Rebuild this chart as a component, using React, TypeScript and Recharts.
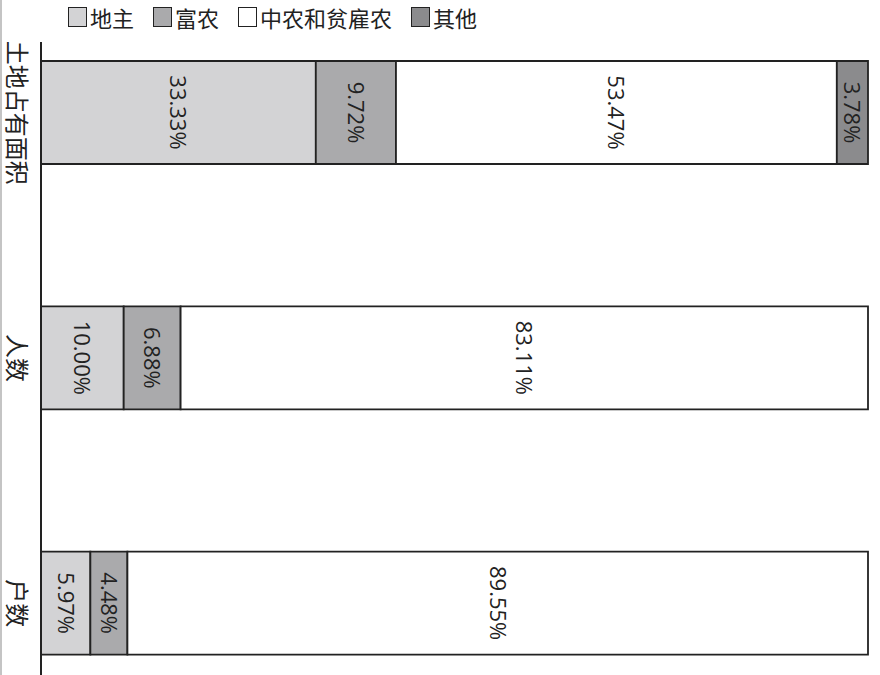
import React from 'react';
import { BarChart, Bar, XAxis, YAxis, LabelList } from 'recharts';

const categories = ['土地占有面积', '人数', '户数'];
const landlord = [33.33, 10.0, 5.97];
const richPeasant = [9.72, 6.88, 4.48];
const middlePoor = [53.47, 83.11, 89.55];
const others = [3.78, 0, 0];

const seriesKeys = ['landlord', 'rich', 'middle', 'other'];
const seriesNames = ['地主', '富农', '中农和贫雇农', '其他'];
const seriesColors = ['#d3d3d5', '#aaaaac', '#ffffff', '#8b8b8d'];

const data = categories.map((c, i) => ({
  name: c,
  landlord: landlord[i],
  rich: richPeasant[i],
  middle: middlePoor[i],
  other: others[i],
}));

const CJK = "'Noto Sans CJK SC', sans-serif";
const INK = '#222';

const CategoryTick = (props: any) => {
  const { y, payload } = props;
  const x = 16;
  return (
    <text
      x={x}
      y={y}
      dy={8}
      transform={`rotate(90, ${x}, ${y})`}
      textAnchor="middle"
      fontSize={24}
      fill={INK}
      fontFamily={CJK}
    >
      {payload.value}
    </text>
  );
};

const ValueLabel = (props: any) => {
  const { x, y, width, height, value } = props;
  const v = Number(value);
  if (!v) return null;
  const cx = Number(x) + Number(width) / 2;
  const cy = Number(y) + Number(height) / 2;
  return (
    <text
      x={cx}
      y={cy}
      dy={8}
      transform={`rotate(90, ${cx}, ${cy})`}
      textAnchor="middle"
      fontSize={22}
      fill={INK}
      fontFamily="'Open Sans', sans-serif"
    >
      {`${v.toFixed(2)}%`}
    </text>
  );
};

const LegendBlock = () => (
  <div
    style={{
      position: 'absolute',
      top: 4,
      left: 68,
      display: 'flex',
      alignItems: 'center',
      fontFamily: CJK,
      fontSize: 22,
      lineHeight: '26px',
      color: INK,
    }}
  >
    {seriesNames.map((n, i) => (
      <div key={n} style={{ display: 'flex', alignItems: 'center', marginRight: 19 }}>
        <span
          style={{
            display: 'inline-block',
            width: 19,
            height: 20,
            boxSizing: 'border-box',
            border: `1.8px solid ${INK}`,
            background: seriesColors[i],
            marginRight: 3,
          }}
        />
        <span>{n}</span>
      </div>
    ))}
  </div>
);

export default function App() {
  return (
    <div
      style={{
        position: 'absolute',
        top: 0,
        left: 0,
        width: 880,
        height: 675,
        overflow: 'hidden',
        background: '#ffffff',
      }}
    >
      <div style={{ position: 'absolute', left: 0, top: 0, width: 1.5, height: 675, background: '#c4c4c4' }} />
      <LegendBlock />
      <BarChart
        width={880}
        height={680}
        data={data}
        layout="vertical"
        stackOffset="expand"
        margin={{ top: 42, right: 12, bottom: 0, left: 0 }}
        style={{ position: 'absolute', top: 0, left: 0 }}
      >
        <XAxis type="number" domain={[0, 1]} hide />
        <YAxis
          type="category"
          dataKey="name"
          width={41}
          axisLine={{ stroke: INK, strokeWidth: 2 }}
          tickLine={false}
          tick={<CategoryTick />}
          padding={{ top: -52, bottom: -46 }}
          interval={0}
        />
        {seriesKeys.map((k, i) => (
          <Bar
            key={k}
            dataKey={k}
            name={seriesNames[i]}
            stackId="a"
            fill={seriesColors[i]}
            stroke={INK}
            strokeWidth={1.8}
            barSize={103}
            isAnimationActive={false}
          >
            <LabelList dataKey={k} content={<ValueLabel />} />
          </Bar>
        ))}
      </BarChart>
    </div>
  );
}
